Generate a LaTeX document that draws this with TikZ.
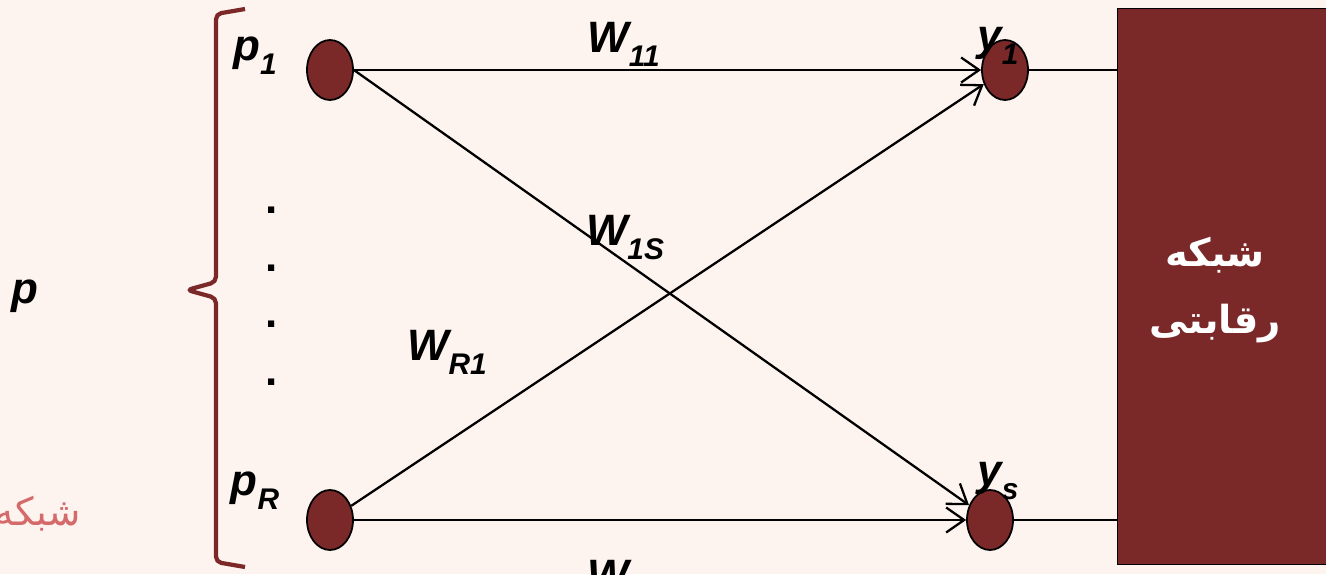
\documentclass[tikz,border=0pt]{standalone}
\usepackage{fontspec}
\setmainfont{Liberation Sans}
\newfontfamily\arabicfont[Script=Arabic]{DejaVu Sans}
\TeXXeTstate=1
\usetikzlibrary{positioning,arrows.meta,shapes.geometric}
\definecolor{bgpeach}{HTML}{FEF4EF}
\definecolor{maroon}{HTML}{7B2828}
\definecolor{rosetext}{HTML}{D46A6A}
\newcommand{\wlbl}[2]{\bfseries\itshape #1\raisebox{-0.32em}{\fontsize{17}{17}\selectfont #2}}

\begin{document}
\begin{tikzpicture}[
  neuron/.style={draw, ellipse, fill=maroon, line width=1pt,
                 minimum width=0.92cm, minimum height=1.2cm, inner sep=0pt},
  arr/.style={-{Straight Barb[length=3.6mm, width=5mm, line width=1.3pt]}, line width=1.3pt},
  lbl/.style={font=\fontsize{25}{28}\selectfont, inner sep=1pt},
]
\useasboundingbox[fill=bgpeach] (0,0) rectangle (26.52,11.48);

%% Nodes
\node[neuron] (p1) at (6.6,10.08) {};
\node[neuron] (pR) at (6.6,1.08)  {};
\node[neuron] (y1) at (20.1,10.08) {};
\node[neuron] (ys) at (19.8,1.08)  {};
\node[draw, fill=maroon, line width=0.8pt, minimum width=4.4cm, minimum height=11.12cm,
      anchor=south west, inner sep=0pt] (comp) at (22.34,0.18) {};

%% Labels
\node[lbl] (lp1) at (5.1,10.36)  {\wlbl{p}{1}};
\node[lbl] (lpR) at (5.1,1.66)   {\wlbl{p}{R}};
\node[lbl] (lp)  at (0.5,5.56)   {\bfseries\itshape p};
\node[lbl] (ly1) at (19.96,10.56) {\wlbl{y}{1}};
\node[lbl] (lys) at (19.96,1.86)  {\wlbl{y}{s}};
\foreach \yy [count=\i] in {7.2,6.04,4.94,3.78}
  \node[lbl, anchor=base] (dot\i) at (5.44,\yy) {\bfseries .};
\node[font=\arabicfont\bfseries\fontsize{22}{38}\selectfont, text=white, align=center]
  (comptxt) at (24.3,5.68) {\beginR شبکه\endR\\\beginR رقابتی\endR};
\node[font=\arabicfont\fontsize{22}{26}\selectfont, text=rosetext, anchor=east]
  (cut) at (1.74,1.2) {\beginR شبکه\endR};

%% Brace
\draw[maroon, line width=2.4pt, rounded corners=3pt]
  (4.9,11.3) -- (4.32,11.2) -- (4.32,5.84) -- (3.74,5.68)
  -- (4.32,5.52) -- (4.32,0.24) -- (4.9,0.14);

%% Connections
% input 1 -> outputs
\draw[arr] (p1) -- node[lbl, above=0.02cm, pos=0.43] {\wlbl{W}{11}} (y1);
\draw[arr] (p1.east) -- (ys);
% input R -> outputs
\draw[arr] (pR) -- (y1);
\draw[arr] (pR) -- node[lbl, below=0.74cm, pos=0.45] {\wlbl{W}{RS}} (ys);
\node[lbl] (w1s) at (12.5,6.72) {\wlbl{W}{1S}};
\node[lbl] (wr1) at (8.94,4.44) {\wlbl{W}{R1}};

% outputs -> competitive layer
\draw[line width=0.8pt] (y1) -- (y1 -| comp.west);
\draw[line width=0.8pt] (ys) -- (ys -| comp.west);

\end{tikzpicture}
\end{document}
